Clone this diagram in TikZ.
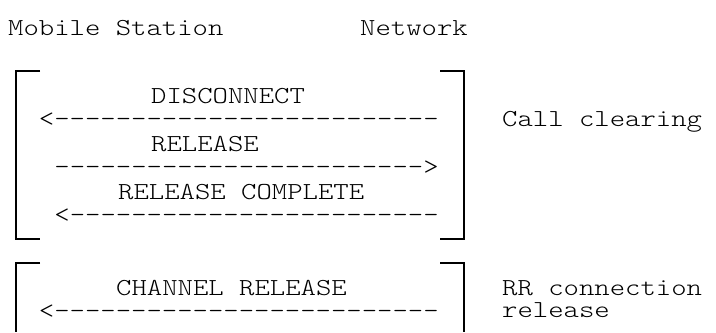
\documentclass[tikz,border=0pt]{standalone}
\usepackage{fontspec}
\setmonofont{Latin Modern Mono Light}[FakeStretch=1.2]
\usetikzlibrary{positioning}

\begin{document}
\begin{tikzpicture}[
  x=1bp, y=-1bp,
  ascii/.style={anchor=base west, inner sep=0pt,
    font=\ttfamily\fontsize{24.4bp}{22bp}\selectfont},
  bracket/.style={line width=1.6bp},
]
  \useasboundingbox (0,0) rectangle (716,332);

  % column heads
  \node[ascii] (ms) at (8,35) {Mobile Station};
  \node[ascii] (nw) at (360,35) {Network};

  % call clearing block
  \draw[bracket] (40,71) -- (16,71) -- (16,239) -- (40,239);
  \draw[bracket] (440,71) -- (464,71) -- (464,239) -- (440,239);
  \node[ascii] (disc) at (151,103) {DISCONNECT};
  \node[ascii] (discarr) at (38.8,126) {<-------------------------};
  \node[ascii] (rel) at (151,151) {RELEASE};
  \node[ascii] (relarr) at (54.2,174) {------------------------>};
  \node[ascii] (relc) at (118,199) {RELEASE COMPLETE};
  \node[ascii] (relcarr) at (54.2,222) {<------------------------};
  \node[ascii] (callclr) at (502,126) {Call clearing};

  % RR connection release block
  \draw[bracket] (40,263) -- (16,263) -- (16,332);
  \draw[bracket] (440,263) -- (464,263) -- (464,332);
  \node[ascii] (chrel) at (116,295) {CHANNEL RELEASE};
  \node[ascii] (chrelarr) at (38.8,318) {<-------------------------};
  \node[ascii, align=left] (rrconn) at (502,317) {RR connection\\release};
\end{tikzpicture}
\end{document}
